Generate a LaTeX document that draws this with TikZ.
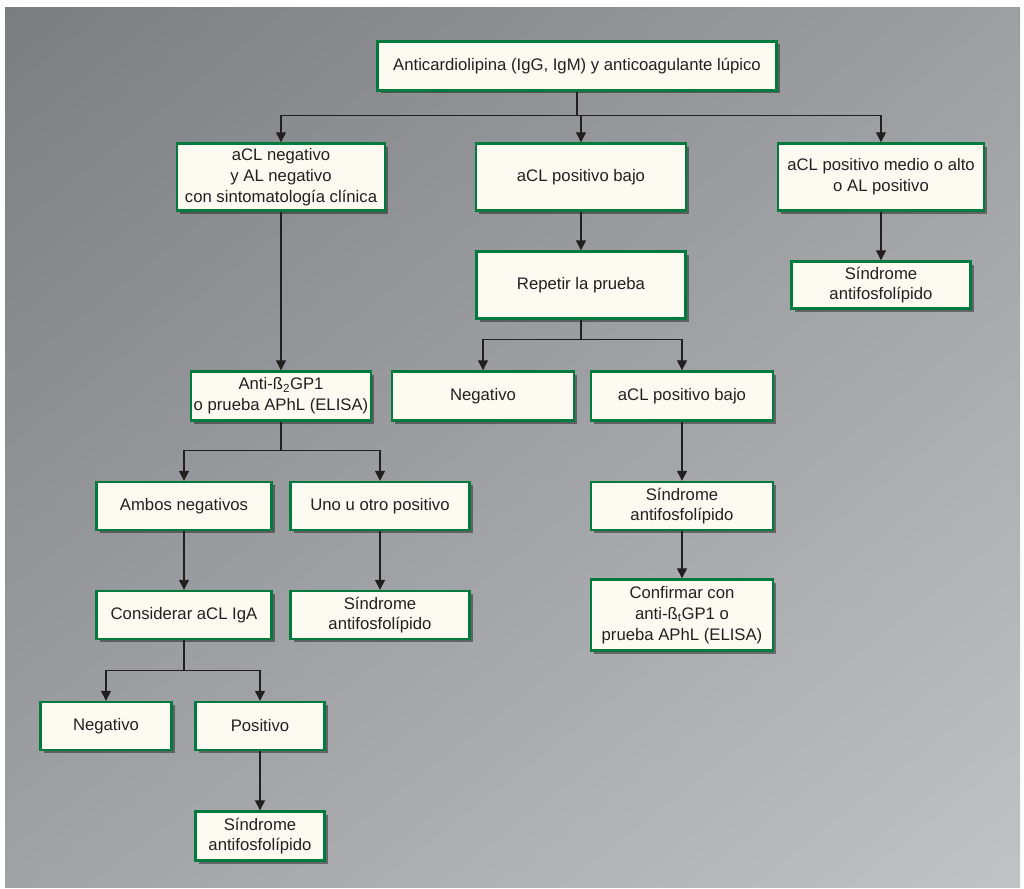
\documentclass[tikz,border=0pt]{standalone}
\usepackage{fontspec}
\setmainfont{Liberation Sans}
\usetikzlibrary{arrows.meta,shadows,shadings}
\definecolor{apgreen}{RGB}{0,122,61}
\definecolor{apcream}{RGB}{253,251,241}
\definecolor{apline}{RGB}{35,31,32}
\definecolor{bgul}{RGB}{124,125,129}
\definecolor{bgur}{RGB}{158,159,163}
\definecolor{bgll}{RGB}{160,162,165}
\definecolor{bglr}{RGB}{192,194,197}
\tikzstyle{box} = [rectangle, draw=apgreen, fill=apcream, line width=2.4pt, text=apline, align=center, inner sep=2pt, drop shadow={shadow xshift=3pt, shadow yshift=-3pt, opacity=0.4, fill=black}, font=\fontsize{16.7}{20.8}\selectfont]
\tikzstyle{arrow} = [line width=1.3pt, color=apline, -{Triangle[width=10pt,length=10pt]}]

\begin{document}
\begin{tikzpicture}[x=1pt, y=-1pt]
\useasboundingbox (0,0) rectangle (1024,888);
% Background
\fill[white] (0,0) rectangle (1024,888);
\shade[upper left=bgul, upper right=bgur, lower left=bgll, lower right=bglr] (5,8) rectangle (1020,887);

% Level 1
\node[box, minimum width=399pt, minimum height=49pt] (anti) at (577,66) {Anticardiolipina (IgG, IgM) y anticoagulante lúpico};

% Level 2
\node[box, minimum width=208pt, minimum height=67pt] (negcl) at (281,177) {aCL negativo\\y AL negativo\\con sintomatología clínica};
\node[box, minimum width=210pt, minimum height=67pt] (bajo) at (581,177) {aCL positivo bajo};
\node[box, minimum width=206pt, minimum height=67pt] (medio) at (881,177) {aCL positivo medio o alto\\o AL positivo};

% Level 3
\node[box, minimum width=209pt, minimum height=67pt] (repetir) at (581,285) {Repetir la prueba};
\node[box, minimum width=179pt, minimum height=47pt] (saf1) at (881,285) {Síndrome\\antifosfolípido};

% Level 4
\node[box, minimum width=180pt, minimum height=49pt] (beta) at (281,396) {Anti-ß\textsubscript{2}GP1\\o prueba APhL (ELISA)};
\node[box, minimum width=182pt, minimum height=49pt] (negm) at (483,396) {Negativo};
\node[box, minimum width=182pt, minimum height=49pt] (bajo2) at (682,396) {aCL positivo bajo};

% Level 5
\node[box, minimum width=175pt, minimum height=48pt] (ambos) at (184,506) {Ambos negativos};
\node[box, minimum width=179pt, minimum height=48pt] (uno) at (380,506) {Uno u otro positivo};
\node[box, minimum width=182pt, minimum height=48pt] (saf2) at (682,506) {Síndrome\\antifosfolípido};

% Level 6
\node[box, minimum width=175pt, minimum height=48pt] (iga) at (184,615) {Considerar aCL IgA};
\node[box, minimum width=179pt, minimum height=48pt] (saf3) at (380,615) {Síndrome\\antifosfolípido};
\node[box, minimum width=182pt, minimum height=71pt] (confirm) at (682,615) {Confirmar con\\anti-ß\textsubscript{t}GP1 o\\prueba APhL (ELISA)};

% Level 7
\node[box, minimum width=131pt, minimum height=48pt] (negb) at (106,726) {Negativo};
\node[box, minimum width=129pt, minimum height=48pt] (pos) at (260,726) {Positivo};
\node[box, minimum width=129pt, minimum height=49pt] (saf4) at (260,836) {Síndrome\\antifosfolípido};

% Connectors
\draw[arrow] (anti.south) -- ++(0,24) -| (negcl.north);
\draw[arrow] (anti.south) -- ++(0,24) -| (bajo.north);
\draw[arrow] (anti.south) -- ++(0,24) -| (medio.north);
\draw[arrow] (negcl.south) -- (beta.north);
\draw[arrow] (bajo.south) -- (repetir.north);
\draw[arrow] (medio.south) -- (saf1.north);
\draw[arrow] (repetir.south) -- ++(0,20) -| (negm.north);
\draw[arrow] (repetir.south) -- ++(0,20) -| (bajo2.north);
\draw[arrow] (beta.south) -- ++(0,29) -| (ambos.north);
\draw[arrow] (beta.south) -- ++(0,29) -| (uno.north);
\draw[arrow] (bajo2.south) -- (saf2.north);
\draw[arrow] (ambos.south) -- (iga.north);
\draw[arrow] (uno.south) -- (saf3.north);
\draw[arrow] (saf2.south) -- (confirm.north);
\draw[arrow] (iga.south) -- ++(0,30) -| (negb.north);
\draw[arrow] (iga.south) -- ++(0,30) -| (pos.north);
\draw[arrow] (pos.south) -- (saf4.north);
\end{tikzpicture}
\end{document}
